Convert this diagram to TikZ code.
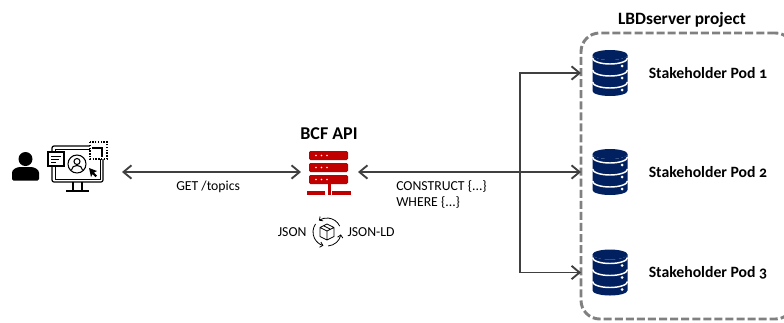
\documentclass[tikz,border=0pt]{standalone}
\usepackage{fontspec}
\setmainfont{Carlito}[Numbers=OldStyle]
\usetikzlibrary{positioning,calc,fit}
\usetikzlibrary{arrows.meta}
\definecolor{linegray}{HTML}{404040}
\definecolor{boxgray}{HTML}{808080}
\definecolor{apired}{HTML}{C00000}
\definecolor{podblue}{HTML}{002060}
\tikzset{
	link/.style={draw=linegray, line width=1.4pt, -{Straight Barb[length=6pt,width=10pt]}},
	linktwo/.style={link, {Straight Barb[length=6pt,width=10pt]}-{Straight Barb[length=6pt,width=10pt]}},
	label/.style={font=\fontsize{10.3}{12}\selectfont, text=black, inner sep=0pt},
	title/.style={font=\fontsize{13.5}{15}\selectfont\bfseries, text=black, inner sep=0pt},
	pics/podicon/.style={code={
		\fill[podblue] (-17.5,-18) arc[start angle=180,end angle=0,x radius=17.5,y radius=5] -- (17.5,18) arc[start angle=0,end angle=180,x radius=17.5,y radius=5] -- cycle;
		\foreach \yy in {-15,-3,9}{
			\draw[white, line width=1.1pt] (-17.5,\yy) arc[start angle=180,end angle=0,x radius=17.5,y radius=6];
			\fill[white] (12,\yy+8) circle (1.5);
		}
		\fill[podblue] (0,-18) ellipse (17.5 and 5);
	}},
	pics/apiicon/.style={code={
		\foreach \yy in {-21,-9,3}{
			\fill[apired, rounded corners=1pt] (-20,\yy) rectangle (19,\yy+9);
			\foreach \xx in {-13,-7.5,-2}
				\fill[white] (\xx,\yy+4.5) circle (.9);
		}
		\fill[apired] (-1.5,12) rectangle (1.5,23);
		\fill[apired] (-22,19) rectangle (-4,23);
		\fill[apired] (3,19) rectangle (22,23);
	}},
	pics/usericon/.style={code={
		\fill[black] (0,-7) circle (7);
		\fill[black, rounded corners=1pt] (-13.5,14.5) -- (-13.5,8) .. controls (-13.5,3) and (-8,1) .. (-4,1) -- (4,1) .. controls (8,1) and (13.5,3) .. (13.5,8) -- (13.5,14.5) -- cycle;
	}},
	pics/screenicon/.style={code={
		\draw[black, line width=.9pt, rounded corners=1.5pt] (-24,-19) rectangle (27,17);
		\draw[black, line width=.7pt] (-21,-16) -- (24,-16) -- (24,14) -- (-21,14) -- cycle;
		\draw[black, line width=.9pt] (-3,17) -- (-3,26) (6,17) -- (6,26) (-10,26) -- (13,26);
		\fill[white] (-28,-13) rectangle (-12,1);
		\draw[black, line width=.9pt] (-28,-13) rectangle (-12,1);
		\draw[black, line width=.7pt] (-25,-9) -- (-15,-9) (-25,-6) -- (-17,-6) (-25,-3) -- (-20,-3);
		\draw[black, line width=.8pt, fill=white] (1,-1) circle (9);
		\draw[black, line width=.8pt] (1,-3.5) circle (3);
		\draw[black, line width=.8pt] (-4.5,5) .. controls (-4.5,-1) and (6.5,-1) .. (6.5,5);
		\fill[black] (13,3) -- (21,6) -- (18,7.5) -- (21,10.5) -- (19.5,12) -- (16.5,9) -- (15,12) -- cycle;
		\fill[white] (14,-23) rectangle (31,-6);
		\draw[black, line width=1.1pt, densely dotted] (14,-23) rectangle (31,-6);
		\draw[black, line width=.9pt] (16,-17) -- (26,-17) -- (26,-8);
	}},
	pics/cycleicon/.style={code={
		\draw[black, line width=.6pt, -{Straight Barb[length=2pt,width=4pt]}] (-25:14) arc[start angle=-25,end angle=-125,radius=14];
		\draw[black, line width=.6pt, -{Straight Barb[length=2pt,width=4pt]}] (-145:14) arc[start angle=-145,end angle=-255,radius=14];
		\draw[black, line width=.6pt, -{Straight Barb[length=2pt,width=4pt]}] (-275:14) arc[start angle=-275,end angle=-350,radius=14];
		\draw[black, line width=.6pt, line join=round] (0,-8) -- (7,-4.5) -- (7,4.5) -- (0,8) -- (-7,4.5) -- (-7,-4.5) -- cycle (-7,-4.5) -- (0,-1) -- (7,-4.5) (0,-1) -- (0,8) (-3.5,-6.2) -- (3.5,-2.8);
	}},
}
\begin{document}
\begin{tikzpicture}[x=0.75pt,y=-0.75pt]
	\useasboundingbox (0,0) rectangle (784,322);
	% client side
	\node[minimum width=20pt, minimum height=22pt, inner sep=0pt] (user) at (25.5,166) {};
	\pic at (user) {usericon};
	\node[minimum width=44pt, minimum height=36pt, inner sep=0pt] (client) at (76,165) {};
	\pic at (client) {screenicon};
	% api
	\node[minimum width=32pt, minimum height=32pt, inner sep=0pt] (api) at (329,172) {};
	\pic at (api) {apiicon};
	\node[title, above=8pt of api] (apititle) {BCF API};
	\node[minimum size=20pt, inner sep=0pt] (cycle) at (327,232) {};
	\pic at (cycle) {cycleicon};
	\node[label, left=5pt of cycle] (json) {JSON};
	\node[label, right=5pt of cycle] (jsonld) {JSON-LD};
	% pods
	\node[draw=boxgray, line width=2.2pt, dash pattern=on 6pt off 2.3pt, rounded corners=14pt, minimum width=159.75pt, minimum height=214.5pt, inner sep=0pt] (project) at (687.5,176) {};
	\node[title, font=\fontsize{13}{15}\selectfont\bfseries] (projecttitle) at (682,20) {LBDserver project};
	\foreach \i/\yy in {1/73,2/172,3/272.5}{
		\node[minimum width=26pt, minimum height=34pt, inner sep=0pt] (pod\i) at (610,\yy) {};
		\pic at (pod\i) {podicon};
		\node[title, font=\fontsize{11.8}{14}\selectfont\bfseries, anchor=west] (podlabel\i) at (648.5,\yy) {Stakeholder Pod \i};
		\coordinate (entry\i) at (581,\yy);
	}
	% connectors
	\coordinate (api east) at (358,172);
	\coordinate (api west) at (301,172);
	\coordinate (client east) at (122,172);
	\coordinate (branch) at (520,172);
	\draw[linktwo] (client east) -- node[label, below=6pt, xshift=-2.5pt] (gettopics) {GET /topics} (api west);
	\draw[link] (branch) -- (api east);
	\draw[link] (branch) |- (entry1);
	\draw[link] (branch) -- (entry2);
	\draw[link] (branch) |- (entry3);
	\node[label, align=left, anchor=north west] (query) at (396,180) {CONSTRUCT \{...\}\\WHERE \{...\}};
\end{tikzpicture}
\end{document}
